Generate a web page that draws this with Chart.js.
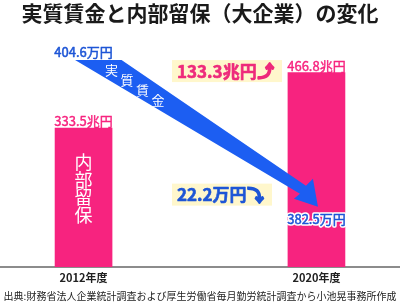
<!DOCTYPE html>
<html>
<head>
<meta charset="utf-8">
<script src="https://cdn.jsdelivr.net/npm/chart.js@4/dist/chart.umd.min.js"></script>
<style>
  html, body { margin: 0; padding: 0; background: #ffffff; }
  #c { display: block; }
</style>
</head>
<body>
<canvas id="c" width="400" height="304"></canvas>
<script>
// ---- data ----
const years = [2012, 2020];
const yearLabels = ['2012年度', '2020年度'];
const retained = [333.5, 466.8];            // 内部留保（兆円）
const retainedLabels = ['333.5兆円', '466.8兆円'];
const wages = [404.6, 382.5];               // 実質賃金（万円）
const wageLabels = ['404.6万円', '382.5万円'];
const retainedChange = '133.3兆円';
const wageChange = '22.2万円';
const titleText = '実質賃金と内部留保（大企業）の変化';
const sourceText = '出典:財務省法人企業統計調査および厚生労働省毎月勤労統計調査から小池晃事務所作成';
const barText = '内部留保';
const arrowText = '実質賃金';

// ---- styles ----
const FONT = "'Noto Sans CJK JP', 'DejaVu Sans', sans-serif";
const PINK = '#f7237f';
const PINK_TEXT = '#ee2a7b';
const BLUE = '#1c5ef2';
const BLUE_TEXT = '#1d55d6';
const YELLOW = '#fff7cc';

Chart.defaults.font.family = FONT;

function boldish(ctx, txt, x, y, color, w) {
  ctx.fillStyle = color;
  ctx.strokeStyle = color;
  ctx.lineWidth = w;
  ctx.lineJoin = 'round';
  ctx.strokeText(txt, x, y);
  ctx.fillText(txt, x, y);
}

const overlay = {
  id: 'overlay',
  afterDatasetsDraw(chart) {
    const ctx = chart.ctx;
    const bars = chart.getDatasetMeta(0).data;
    const pts = chart.getDatasetMeta(1).data;
    const p0 = pts[0], p1 = pts[1];
    ctx.save();

    // wage arrow
    const T = { x: p1.x + 0.5, y: p1.y };
    ctx.fillStyle = BLUE;
    ctx.beginPath();
    ctx.moveTo(p0.x - 8.5, p0.y);
    ctx.lineTo(p0.x + 38, p0.y);
    ctx.lineTo(T.x - 11, T.y - 21);
    ctx.lineTo(T.x - 4, T.y - 28);
    ctx.lineTo(T.x + 1, T.y);
    ctx.lineTo(T.x - 23, T.y - 8);
    ctx.lineTo(T.x - 17, T.y - 13);
    ctx.closePath();
    ctx.fill();

    ctx.textAlign = 'center';
    ctx.textBaseline = 'middle';

    // text along arrow
    ctx.fillStyle = '#ffffff';
    ctx.font = '13px ' + FONT;
    [...arrowText].forEach((ch, i) => {
      ctx.fillText(ch, p0.x + 28 + 15.5 * i, p0.y + 10 + 10 * i);
    });

    // bar value labels
    ctx.font = '13px ' + FONT;
    bars.forEach((b, i) => boldish(ctx, retainedLabels[i], b.x, b.y - 7, PINK, 0.4));

    // vertical text inside first bar
    ctx.fillStyle = '#ffffff';
    ctx.font = '18px ' + FONT;
    [...barText].forEach((ch, i) => {
      ctx.fillText(ch, bars[0].x, bars[0].y + 34 + 17.7 * i);
    });

    // wage labels
    ctx.font = '13px ' + FONT;
    boldish(ctx, wageLabels[0], p0.x, p0.y - 8, BLUE_TEXT, 0.5);
    ctx.lineJoin = 'round';
    ctx.strokeStyle = '#ffffff';
    ctx.lineWidth = 3.5;
    ctx.strokeText(wageLabels[1], p1.x, p1.y + 12);
    boldish(ctx, wageLabels[1], p1.x, p1.y + 12, BLUE_TEXT, 0.5);

    // change annotations
    const midX = (bars[0].x + bars[1].x) / 2;
    const left = midX - 28;
    function note(cy, w, txt, glyph, color) {
      ctx.fillStyle = YELLOW;
      ctx.fillRect(left, cy - 11, w, 22);
      ctx.textAlign = 'left';
      ctx.font = 'bold 17px ' + FONT;
      boldish(ctx, txt, left + 5, cy, color, 0.6);
      const tw = ctx.measureText(txt).width;
      ctx.font = 'bold 16px ' + FONT;
      boldish(ctx, glyph, left + 5 + tw + 1, cy, color, 2);
    }
    note(bars[1].y - 1.5, 110, retainedChange, '⤴', PINK_TEXT);
    note(p1.y - 12, 100, wageChange, '⤵', BLUE_TEXT);

    ctx.restore();
  }
};

new Chart(document.getElementById('c'), {
  type: 'bar',
  data: {
    datasets: [
      {
        type: 'bar',
        data: years.map((x, i) => ({ x: x, y: retained[i] })),
        backgroundColor: PINK,
        barThickness: 57,
        yAxisID: 'y'
      },
      {
        type: 'line',
        data: years.map((x, i) => ({ x: x, y: wages[i] })),
        yAxisID: 'y2',
        showLine: false,
        pointRadius: 0,
        borderWidth: 0
      }
    ]
  },
  options: {
    responsive: false,
    animation: false,
    devicePixelRatio: 1,
    layout: { padding: 0 },
    plugins: {
      legend: { display: false },
      tooltip: { enabled: false },
      title: {
        display: true,
        text: titleText,
        color: '#1a1a1a',
        font: { size: 21, weight: 'bold', family: FONT },
        padding: { top: 0, bottom: 34.8 }
      },
      subtitle: {
        display: true,
        position: 'bottom',
        text: sourceText,
        color: '#222222',
        font: { size: 10, family: FONT },
        padding: { top: 2, bottom: 1.8 }
      }
    },
    scales: {
      x: {
        type: 'linear',
        offset: false,
        min: 2009.13,
        max: 2022.87,
        afterBuildTicks: (s) => { s.ticks = years.map(v => ({ value: v })); },
        ticks: {
          padding: 4,
          color: '#222222',
          font: { size: 11, weight: 'bold', family: FONT },
          callback: (v) => yearLabels[years.indexOf(v)],
          autoSkip: false,
          maxRotation: 0
        },
        grid: { display: false, drawTicks: false },
        border: { display: true, color: '#8c8c8c', width: 2 }
      },
      y: { display: false, min: 0, max: 497 },
      y2: { display: false, min: 373.4, max: 404.6, position: 'right' }
    }
  },
  plugins: [overlay]
});
</script>
</body>
</html>
